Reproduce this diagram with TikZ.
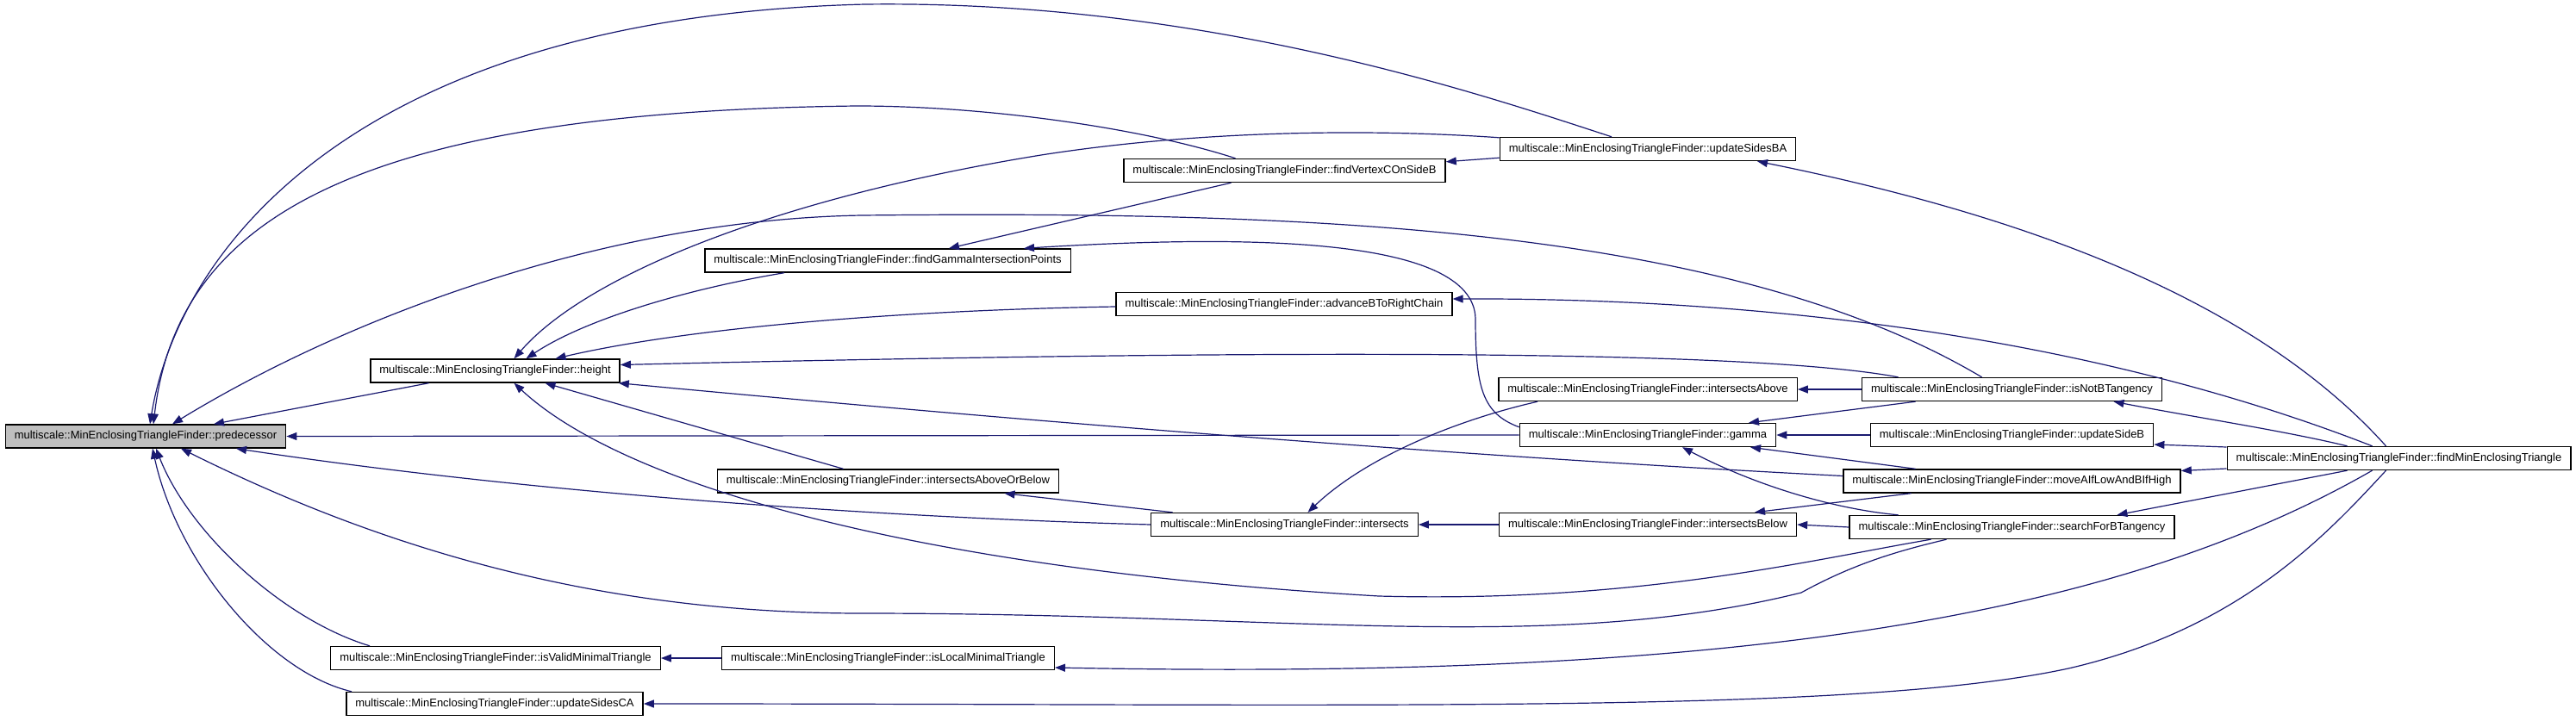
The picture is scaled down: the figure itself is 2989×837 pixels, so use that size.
\documentclass[tikz,border=0pt]{standalone}
\usepackage{fontspec}
\setmainfont{Liberation Sans}
\usepackage{tikz}
\usetikzlibrary{arrows.meta,calc}
\definecolor{edgeblue}{RGB}{25,25,112}
\definecolor{selgray}{RGB}{191,191,191}

\begin{document}
\begin{tikzpicture}[x=1pt, y=-1pt,
        every node/.style={font=\fontsize{13}{15}\selectfont},
        fnbox/.style={draw=black, line width=1.4pt, fill=white, minimum height=27pt, inner xsep=10.5pt, inner ysep=0pt},
        caller/.style={draw=edgeblue, line width=1.2pt, {Triangle[length=12pt,width=9pt]}-}]
        \useasboundingbox (0,0) rectangle (2989,837);

        % functions, one column per rank
        \node[fnbox, fill=selgray] (pred) at (169,506.5) {multiscale::MinEnclosingTriangleFinder::predecessor};
        \node[fnbox] (height) at (574.5,430.5) {multiscale::MinEnclosingTriangleFinder::height};
        \node[fnbox] (isvalid) at (575,764) {multiscale::MinEnclosingTriangleFinder::isValidMinimalTriangle};
        \node[fnbox] (updca) at (574,817) {multiscale::MinEnclosingTriangleFinder::updateSidesCA};
        \node[fnbox] (fgip) at (1030,302.5) {multiscale::MinEnclosingTriangleFinder::findGammaIntersectionPoints};
        \node[fnbox] (iaob) at (1030.5,558.5) {multiscale::MinEnclosingTriangleFinder::intersectsAboveOrBelow};
        \node[fnbox] (islocal) at (1030.5,764) {multiscale::MinEnclosingTriangleFinder::isLocalMinimalTriangle};
        \node[fnbox] (fvcb) at (1490.5,198) {multiscale::MinEnclosingTriangleFinder::findVertexCOnSideB};
        \node[fnbox] (advb) at (1490,353) {multiscale::MinEnclosingTriangleFinder::advanceBToRightChain};
        \node[fnbox] (inter) at (1490.5,609) {multiscale::MinEnclosingTriangleFinder::intersects};
        \node[fnbox] (updba) at (1912,173) {multiscale::MinEnclosingTriangleFinder::updateSidesBA};
        \node[fnbox] (iabove) at (1912,452) {multiscale::MinEnclosingTriangleFinder::intersectsAbove};
        \node[fnbox] (gamma) at (1912,505) {multiscale::MinEnclosingTriangleFinder::gamma};
        \node[fnbox] (ibelow) at (1912,609) {multiscale::MinEnclosingTriangleFinder::intersectsBelow};
        \node[fnbox] (notbt) at (2334.5,452) {multiscale::MinEnclosingTriangleFinder::isNotBTangency};
        \node[fnbox] (updb) at (2334.5,505) {multiscale::MinEnclosingTriangleFinder::updateSideB};
        \node[fnbox] (moveab) at (2334.5,558.5) {multiscale::MinEnclosingTriangleFinder::moveAIfLowAndBIfHigh};
        \node[fnbox] (searchbt) at (2334.5,612) {multiscale::MinEnclosingTriangleFinder::searchForBTangency};
        \node[fnbox] (findmin) at (2783.5,532) {multiscale::MinEnclosingTriangleFinder::findMinEnclosingTriangle};

        % callers of predecessor
        \draw[caller] ([xshift=5pt]pred.north) .. controls (205,300) and (400,20) .. (1004,5) .. controls (1400,0) and (1720,110) .. ([xshift=-42pt]updba.north);
        \draw[caller] ([xshift=9pt]pred.north) .. controls (205,260) and (400,130) .. (994,123) .. controls (1150,123) and (1330,150) .. ([xshift=-57pt]fvcb.north);
        \draw[caller] ([xshift=31pt]pred.north) .. controls (400,370) and (700,255) .. (1000,250) .. controls (1500,245) and (2000,260) .. ([xshift=-35pt]notbt.north);
        \draw[caller] ([xshift=79pt]pred.north) -- ([xshift=-77pt]height.south);
        \draw[caller] (pred.east) -- (gamma.west);
        \draw[caller] ([xshift=105pt]pred.south) .. controls (600,570) and (1000,600) .. (inter.west);
        \draw[caller] ([xshift=41pt]pred.south) .. controls (450,640) and (700,712) .. (1000,712) .. controls (1500,712) and (1800,760) .. (2090,688) .. controls (2150,655) and (2200,640) .. ([xshift=-76pt]searchbt.south);
        \draw[caller] ([xshift=12pt]pred.south) .. controls (220,620) and (330,720) .. ([xshift=-146pt]isvalid.north);
        \draw[caller] ([xshift=8pt]pred.south) .. controls (205,650) and (310,780) .. ([xshift=-166pt]updca.north);

        % callers of height
        \draw[caller] ([xshift=22pt]height.north) .. controls (680,320) and (900,230) .. (1208,180) .. controls (1400,150) and (1600,150) .. ([yshift=-1pt]updba.north west);
        \draw[caller] ([xshift=36pt]height.north) .. controls (680,370) and (800,335) .. ([xshift=-120pt]fgip.south);
        \draw[caller] ([xshift=70pt]height.north) .. controls (800,380) and (1050,360) .. ([yshift=-3pt]advb.west);
        \draw[caller] ([yshift=7pt]height.east) .. controls (1300,410) and (2000,400) .. ([xshift=-132pt]notbt.north);
        \draw[caller] ([xshift=-2pt]height.south east) .. controls (1200,490) and (1700,530) .. ([yshift=6pt]moveab.west);
        \draw[caller] ([xshift=58pt]height.south) -- ([xshift=-52pt]iaob.north);
        \draw[caller] ([xshift=22pt]height.south) .. controls (720,560) and (1050,660) .. (1600,692) .. controls (1900,700) and (2100,650) .. ([xshift=-94pt]searchbt.south);

        % the other calls
        \draw[caller] ([yshift=-4pt]fvcb.north east) -- ([yshift=4pt]updba.south west);
        \draw[caller] ([xshift=71pt]fgip.north) -- ([xshift=-62pt]fvcb.south);
        \draw[caller] ([xshift=158pt]fgip.north) .. controls (1450,272) and (1710,275) .. (1712,370) .. controls (1712,450) and (1720,480) .. ([yshift=-5pt]gamma.north west);
        \draw[caller] ([yshift=6pt]advb.east) .. controls (2000,346) and (2400,380) .. ([xshift=-31pt]findmin.north);
        \draw[caller] ([xshift=135pt]iaob.south) -- ([xshift=-130pt]inter.north);
        \draw[caller] ([xshift=27pt]inter.north) .. controls (1580,535) and (1680,490) .. ([xshift=-128pt]iabove.south);
        \draw[caller] (inter.east) -- (ibelow.west);
        \draw[caller] (isvalid.east) -- (islocal.west);
        \draw[caller] ([yshift=-11pt]islocal.east) .. controls (2000,790) and (2450,720) .. ([xshift=-31pt]findmin.south);
        \draw[caller] (updca.east) .. controls (1600,817) and (2150,830) .. (2400,776) .. controls (2600,730) and (2700,620) .. ([xshift=-15pt]findmin.south);
        \draw[caller] ([xshift=127pt]updba.south) .. controls (2300,240) and (2600,330) .. ([xshift=-15pt]findmin.north);
        \draw[caller] (iabove.east) -- (notbt.west);
        \draw[caller] ([xshift=117pt]gamma.north) -- ([xshift=-112pt]notbt.south);
        \draw[caller] (gamma.east) -- (updb.west);
        \draw[caller] ([xshift=119pt]gamma.south) -- ([xshift=-112pt]moveab.north);
        \draw[caller] ([xshift=40pt]gamma.south) .. controls (2030,560) and (2120,590) .. ([xshift=-132pt]searchbt.north);
        \draw[caller] ([xshift=124pt]ibelow.north) -- ([xshift=-117pt]moveab.south);
        \draw[caller] (ibelow.east) -- (searchbt.west);
        \draw[caller] ([xshift=118pt]notbt.south) .. controls (2550,485) and (2650,500) .. ([xshift=-60pt]findmin.north);
        \draw[caller] ([yshift=-11pt]updb.east) -- ([yshift=13pt]findmin.west);
        \draw[caller] ([yshift=12pt]moveab.east) -- ([yshift=-12pt]findmin.west);
        \draw[caller] ([xshift=122pt]searchbt.north) -- ([xshift=-60pt]findmin.south);
    \end{tikzpicture}
\end{document}
